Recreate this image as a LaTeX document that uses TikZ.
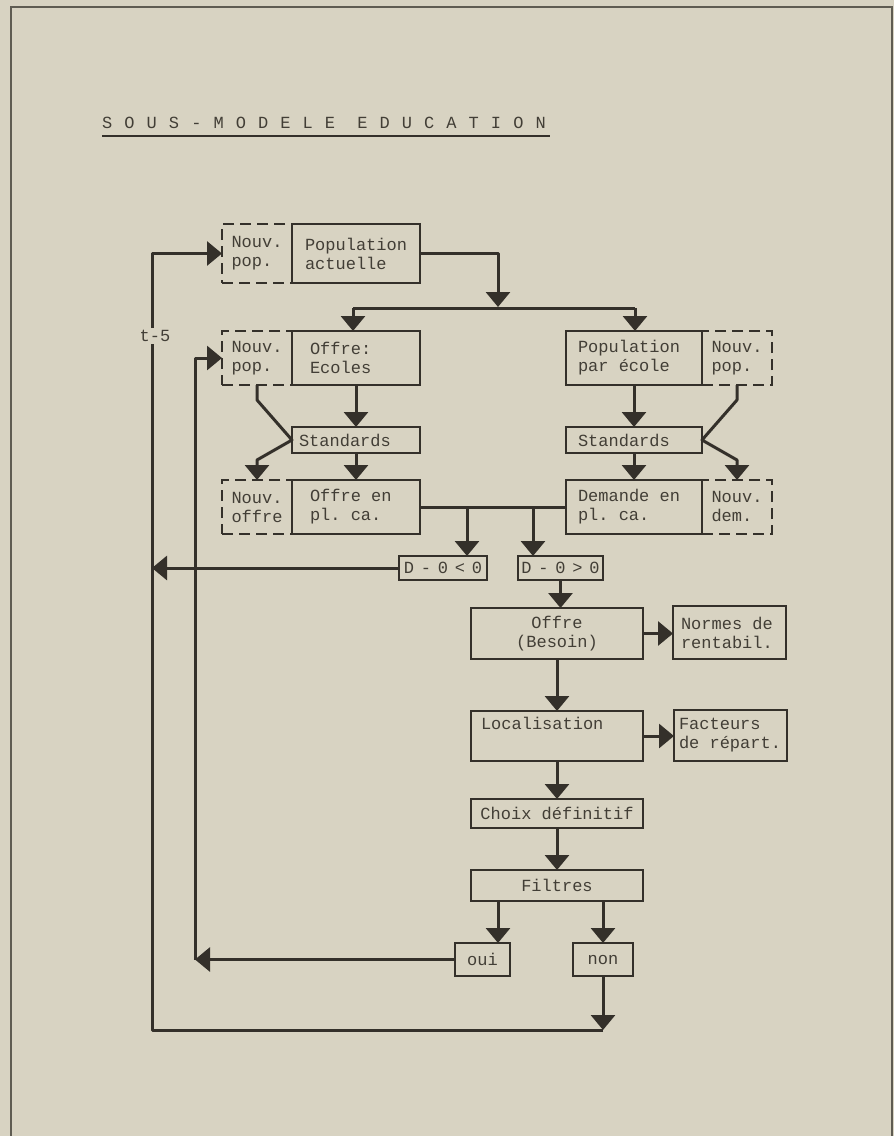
\documentclass[tikz,border=0pt]{standalone}
\usepackage{fontspec}
\usepackage{xcolor}
\usepackage{tikz}
\usetikzlibrary{positioning, arrows.meta}
\newfontfamily\tw{Liberation Mono}
\newfontfamily\twwide{Liberation Mono}[LetterSpace=71]
\newfontfamily\twhalf{Liberation Mono}[LetterSpace=40]
\newcommand{\boxfont}{\tw\fontsize{17}{19}\selectfont}
\definecolor{paper}{RGB}{216,211,194}
\definecolor{ink}{RGB}{52,48,42}
\definecolor{typed}{RGB}{66,62,54}
\definecolor{frameline}{RGB}{95,92,82}

\begin{document}
\begin{tikzpicture}[
  x=1pt, y=-1pt,
  box/.style={draw=ink, line width=1.6pt, inner sep=0pt, outer sep=0pt, align=left, font=\boxfont, text=typed,
    execute at begin node={\spaceskip=10.2pt\xspaceskip=10.2pt\hyphenpenalty=10000\relax}},
  newbox/.style={box, dash pattern=on 11pt off 6pt},
  wire/.style={draw=ink, line width=3pt, line join=round},
  arr/.style={wire, -{Triangle[width=24pt, length=15pt]}}
]
  % sheet and frame
  \fill[paper] (0,0) rectangle (894,1136);
  \useasboundingbox (0,0) rectangle (894,1136);
  \draw[frameline, line width=1.5pt] (11,1136) -- (11,7) -- (892,7) -- (892,1136);

  % title
  \node[anchor=base west, inner sep=0pt, font={\twwide\fontsize{17}{19}\selectfont}, text=typed] (title) at (102,128) {SOUS-MODELE EDUCATION};
  \draw[ink, line width=1.3pt] ([yshift=-8pt]title.base west) -- ([yshift=-8pt, xshift=4pt]title.base east);

  % population
  \node[box, minimum width=128pt, minimum height=59pt, text width=102pt] (popact) at (356,253.5) {Population\\actuelle};
  \node[newbox, minimum width=70pt, minimum height=59pt, text width=51pt, left=0pt of popact] (nouvpop) {Nouv.\\pop.};

  % left column: offre
  \node[box, minimum width=128pt, minimum height=54pt, text width=92pt] (offre) at (356,358) {Offre:\\Ecoles};
  \node[newbox, minimum width=70pt, minimum height=54pt, text width=51pt, left=0pt of offre] (nouvpop2) {Nouv.\\pop.};
  \node[box, minimum width=128pt, minimum height=26pt, text width=114pt] (stdl) at (356,440) {Standards};
  \node[box, minimum width=128pt, minimum height=54pt, text width=92pt] (offpl) at (356,507) {Offre en\\pl. ca.};
  \node[newbox, minimum width=70pt, minimum height=54pt, text width=51pt, left=0pt of offpl] (nouvoff) {Nouv.\\offre};

  % right column: demande
  \node[box, minimum width=136pt, minimum height=54pt, text width=112pt] (poppar) at (634,358) {Population\\par école};
  \node[newbox, minimum width=70pt, minimum height=54pt, text width=51pt, right=0pt of poppar] (nouvpop3) {Nouv.\\pop.};
  \node[box, minimum width=136pt, minimum height=26pt, text width=112pt] (stdr) at (634,440) {Standards};
  \node[box, minimum width=136pt, minimum height=54pt, text width=112pt] (dempl) at (634,507) {Demande en\\pl. ca.};
  \node[newbox, minimum width=70pt, minimum height=54pt, text width=51pt, right=0pt of dempl] (nouvdem) {Nouv.\\dem.};

  % tests and choice
  \node[box, minimum width=88pt, minimum height=24pt, font={\twhalf\fontsize{17}{19}\selectfont}] (dneg) at (443,568) {D-0<0};
  \node[box, minimum width=85pt, minimum height=24pt, font={\twhalf\fontsize{17}{19}\selectfont}] (dpos) at (560.5,568) {D-0>0};
  \node[box, minimum width=172pt, minimum height=51pt, align=center] (besoin) at (557,633.5) {Offre\\(Besoin)};
  \node[box, minimum width=113pt, minimum height=53pt, text width=97pt] (normes) at (729.5,632.5) {Normes de\\rentabil.};
  \node[box, minimum width=172pt, minimum height=50pt, text width=152pt] (local) at (557,736) {Localisation\\\strut};
  \node[box, minimum width=113pt, minimum height=51pt, text width=103pt] (facteurs) at (730.5,735.5) {Facteurs\\de répart.};
  \node[box, minimum width=172pt, minimum height=29pt, align=center] (choix) at (557,813.5) {Choix définitif};
  \node[box, minimum width=172pt, minimum height=31pt, align=center] (filtres) at (557,885.5) {Filtres};
  \node[box, minimum width=55pt, minimum height=33pt, align=center] (oui) at (482.5,959.5) {oui};
  \node[box, minimum width=60pt, minimum height=33pt, align=center] (non) at (603,959.5) {non};

  % distribution
  \coordinate (bus) at (498,307);
  \coordinate (busl) at (353,308);
  \coordinate (busr) at (635,308);
  \draw[arr] (popact.east) -| (bus);
  \draw[wire] (busl) -- (busr);
  \draw[arr] (busl) -- (busl |- offre.north);
  \draw[arr] (busr) -- (busr |- poppar.north);

  % standards, left
  \coordinate (kl1) at (257,400);
  \coordinate (kl2) at (257,460);
  \draw[arr] (offre.south) -- (stdl.north);
  \draw[arr] (stdl.south) -- (offpl.north);
  \draw[arr] (nouvpop2.south) -- (kl1) -- (stdl.west) -- (kl2) -- (kl2 |- nouvoff.north);

  % standards, right
  \coordinate (kr1) at (737,400);
  \coordinate (kr2) at (737,460);
  \draw[arr] (poppar.south) -- (stdr.north);
  \draw[arr] (stdr.south) -- (dempl.north);
  \draw[arr] (nouvpop3.south) -- (kr1) -- (stdr.east) -- (kr2) -- (kr2 |- nouvdem.north);

  % comparison
  \coordinate (ja) at (467,507);
  \coordinate (jb) at (533,507);
  \draw[wire] (offpl.east) -- (dempl.west);
  \draw[arr] (ja) -- (ja |- dneg.north);
  \draw[arr] (jb) -- (jb |- dpos.north);

  % main chain
  \draw[arr] (dpos.south) -- (dpos.south |- besoin.north);
  \draw[arr] (besoin.east) -- (besoin.east -| normes.west);
  \draw[arr] (besoin.south) -- (local.north);
  \draw[arr] (local.east) -- (local.east -| facteurs.west);
  \draw[arr] (local.south) -- (choix.north);
  \draw[arr] (choix.south) -- (filtres.north);
  \coordinate (fo) at ([xshift=-59pt]filtres.south);
  \draw[arr] (fo) -- (fo |- oui.north);
  \draw[arr] (non.north |- filtres.south) -- (non.north);

  % feedback loops
  \coordinate (inner) at (195,959.5);
  \coordinate (outer) at (152,1030);
  \draw[arr] (oui.west) -- (inner);
  \draw[arr] (inner) |- (nouvpop2.west);
  \draw[arr] (non.south) -- (non.south |- outer);
  \draw[arr] (non.south |- outer) -- (outer) |- (nouvpop.west);
  \draw[arr] (dneg.west) -- (dneg.west -| outer);
  \node[fill=paper, inner sep=2pt, font=\boxfont, text=typed] (delay) at (155,336) {t-5};
\end{tikzpicture}
\end{document}
